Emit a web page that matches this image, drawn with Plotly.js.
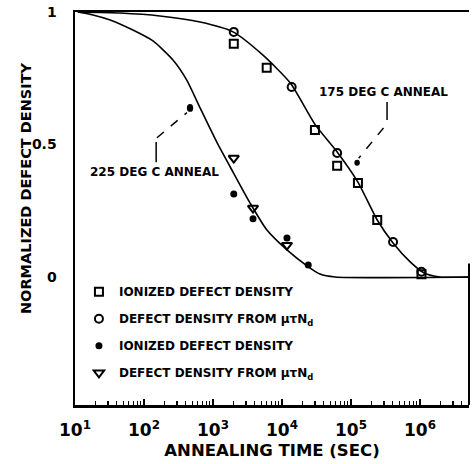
<!DOCTYPE html>
<html>
<head>
<meta charset="utf-8">
<script src="https://cdn.plot.ly/plotly-3.0.1.min.js"></script>
<style>
html,body{margin:0;padding:0;background:#fff;}
#chart{width:472px;height:464px;}
</style>
</head>
<body>
<div id="chart"></div>
<script>
// ---- data ----
const fit175X = [11, 45, 170, 650, 1950, 5250, 13200, 30400, 63000, 126000, 240000, 407000, 720000, 1150000, 1950000, 5100000];
const fit175Y = [1.0, 0.996, 0.985, 0.962, 0.925, 0.838, 0.732, 0.574, 0.472, 0.358, 0.215, 0.128, 0.057, 0.015, 0.0, 0.0];
const fit225X = [11, 18.2, 32.3, 69, 135, 263, 417, 650, 1150, 1950, 3450, 6050, 11800, 23000, 35500, 59000, 5100000];
const fit225Y = [1.0, 0.989, 0.970, 0.932, 0.891, 0.819, 0.743, 0.638, 0.506, 0.396, 0.279, 0.177, 0.102, 0.042, 0.011, 0.0, 0.0];

const ion175X = [2000, 6000, 30000, 63000, 126000, 240000, 1050000];
const ion175Y = [0.88, 0.79, 0.555, 0.42, 0.355, 0.215, 0.01];
const mut175X = [2000, 13800, 63000, 407000, 1050000];
const mut175Y = [0.925, 0.717, 0.468, 0.132, 0.02];

const ion225X = [2000, 3800, 11800, 24000];
const ion225Y = [0.313, 0.22, 0.147, 0.045];
const mut225X = [2000, 3800, 11800];
const mut225Y = [0.449, 0.26, 0.12];

const xTickVals = [10, 100, 1000, 10000, 100000, 1000000];
const xTickText = ["10<sup>1</sup>", "10<sup>2</sup>", "10<sup>3</sup>", "10<sup>4</sup>", "10<sup>5</sup>", "10<sup>6</sup>"];
const yTickVals = [0, 0.5, 1];
const yTickText = ["0", "0.5", "1"];

const legendNames = [
  "IONIZED DEFECT DENSITY",
  "DEFECT DENSITY FROM μτN<sub>d</sub>",
  "IONIZED DEFECT DENSITY",
  "DEFECT DENSITY FROM μτN<sub>d</sub>"
];
const label175 = "175 DEG C ANNEAL";
const label225 = "225 DEG C ANNEAL";
const xTitle = "ANNEALING TIME (SEC)";
const yTitle = "NORMALIZED DEFECT DENSITY";

// ---- chart ----
const FONT = "DejaVu Sans, sans-serif";
const traces = [
  {x: fit175X, y: fit175Y, mode: "lines", line: {color: "#000", width: 1.6, shape: "spline", smoothing: 0.6}, showlegend: false, hoverinfo: "skip"},
  {x: fit225X, y: fit225Y, mode: "lines", line: {color: "#000", width: 1.6, shape: "spline", smoothing: 0.6}, showlegend: false, hoverinfo: "skip"},
  {x: ion175X, y: ion175Y, mode: "markers", name: legendNames[0], legendgroup: "a",
   marker: {symbol: "square-open", size: 8, color: "#000", line: {width: 2, color: "#000"}}},
  {x: mut175X, y: mut175Y, mode: "markers", name: legendNames[1], legendgroup: "b",
   marker: {symbol: "circle-open", size: 8, color: "#000", line: {width: 2, color: "#000"}}},
  {x: ion225X, y: ion225Y, mode: "markers", name: legendNames[2], legendgroup: "c",
   marker: {symbol: "circle", size: 7, color: "#000"}},
  {x: mut225X, y: mut225Y, mode: "markers", name: legendNames[3], legendgroup: "d",
   marker: {symbol: "triangle-down-open", size: 9, color: "#000", line: {width: 2, color: "#000"}}}
];

const layout = {
  width: 472, height: 464,
  margin: {l: 75, r: 3, t: 12, b: 59, pad: 0},
  paper_bgcolor: "#fff", plot_bgcolor: "#fff",
  font: {family: FONT, color: "#000", size: 12, weight: "bold"},
  showlegend: true,
  legend: {
    x: 0.01, y: 0.325, xanchor: "left", yanchor: "top",
    bgcolor: "rgba(0,0,0,0)", borderwidth: 0,
    traceorder: "grouped", tracegroupgap: 8,
    font: {family: FONT, size: 12, color: "#000", weight: "bold"},
    itemwidth: 30
  },
  xaxis: {
    type: "log", range: [1, 6.71],
    showline: true, linecolor: "#000", linewidth: 2.5, mirror: true,
    showgrid: false, zeroline: false,
    tickvals: xTickVals, ticktext: xTickText,
    ticks: "inside", ticklen: 6, tickwidth: 1.5, tickcolor: "#000",
    minor: {ticks: "inside", ticklen: 4, tickwidth: 1.2, tickcolor: "#000", dtick: "D1", showgrid: false},
    tickfont: {family: FONT, size: 17, color: "#000", weight: "bold"},
    ticklabelstandoff: 8,
    title: {text: xTitle, font: {family: FONT, size: 16.5, color: "#000", weight: "bold"}, standoff: 6}
  },
  yaxis: {
    range: [-0.483, 1.0],
    showline: true, linecolor: "#000", linewidth: 2.5, mirror: false,
    showgrid: false, zeroline: false,
    tickvals: yTickVals, ticktext: yTickText,
    ticks: "",
    tickfont: {family: FONT, size: 14, color: "#000", weight: "bold"},
    ticklabelstandoff: 13
  },
  shapes: [
    {type: "line", xref: "paper", yref: "paper", x0: 1, x1: 1, y0: 0, y1: 0.36, line: {color: "#000", width: 2}},
    {type: "line", xref: "paper", yref: "paper", x0: 0.792, x1: 0.792, y0: 0.771, y1: 0.725, line: {color: "#000", width: 1.5}},
    {type: "line", xref: "paper", yref: "paper", x0: 0.783, x1: 0.72, y0: 0.705, y1: 0.628, line: {color: "#000", width: 1.5, dash: "dash"}},
    {type: "circle", xref: "paper", yref: "paper", x0: 0.709, x1: 0.723, y0: 0.609, y1: 0.624, fillcolor: "#000", line: {color: "#000", width: 0}},
    {type: "line", xref: "paper", yref: "paper", x0: 0.206, x1: 0.206, y0: 0.618, y1: 0.669, line: {color: "#000", width: 1.5}},
    {type: "line", xref: "paper", yref: "paper", x0: 0.208, x1: 0.284, y0: 0.68, y1: 0.744, line: {color: "#000", width: 1.5, dash: "dash"}},
    {type: "circle", xref: "paper", yref: "paper", x0: 0.284, x1: 0.300, y0: 0.746, y1: 0.766, fillcolor: "#000", line: {color: "#000", width: 0}}
  ],
  annotations: [
    {text: label175, xref: "paper", yref: "paper", x: 0.784, y: 0.796, xanchor: "center", yanchor: "middle", showarrow: false,
     font: {family: FONT, size: 12, color: "#000", weight: "bold"}},
    {text: label225, xref: "paper", yref: "paper", x: 0.203, y: 0.593, xanchor: "center", yanchor: "middle", showarrow: false,
     font: {family: FONT, size: 12, color: "#000", weight: "bold"}},
    {text: yTitle, xref: "paper", yref: "paper", x: -0.126, y: 0.553, xanchor: "center", yanchor: "middle", textangle: -90, showarrow: false,
     font: {family: FONT, size: 14.5, color: "#000", weight: "bold"}}
  ]
};

Plotly.newPlot("chart", traces, layout, {displayModeBar: false, staticPlot: true});
</script>
</body>
</html>
